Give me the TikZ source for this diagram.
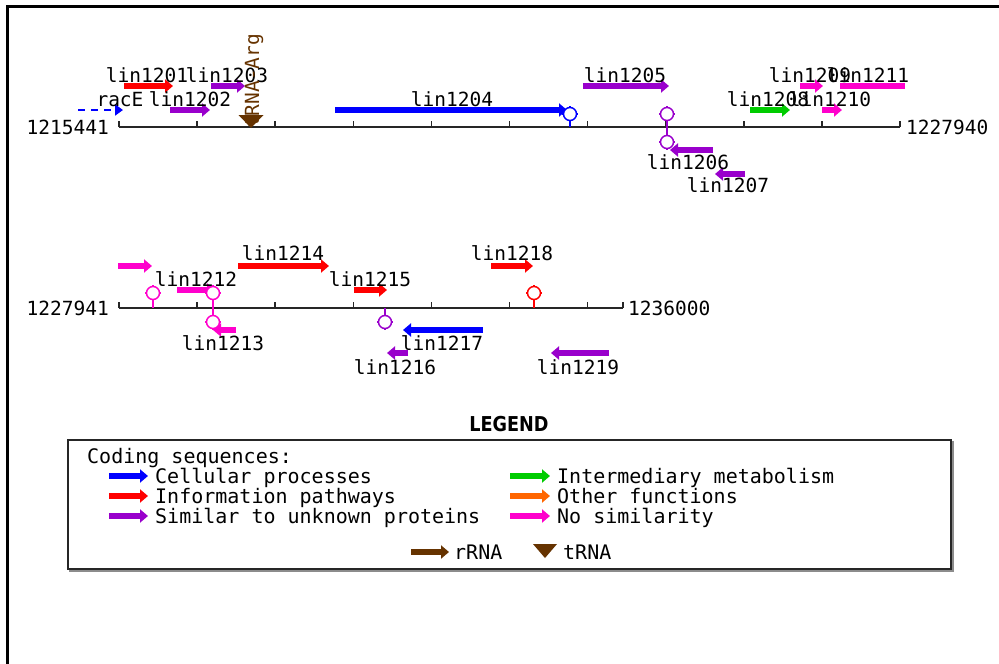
\documentclass[tikz,border=0pt]{standalone}
\usepackage{fontspec}
\newfontfamily\mapfont{DejaVu Sans Mono}
\newfontfamily\headfont{DejaVu Sans}
\usetikzlibrary{arrows.meta}

\definecolor{cellblue}{HTML}{0000FF}
\definecolor{infored}{HTML}{FF0000}
\definecolor{unkpurple}{HTML}{9900CC}
\definecolor{metgreen}{HTML}{00CC00}
\definecolor{otherorange}{HTML}{FF6600}
\definecolor{nosimpink}{HTML}{FF00CC}
\definecolor{rnabrown}{HTML}{663300}

% terminator: colour, x, y
\newcommand{\termsite}[3]{%
  \draw[#1,line width=1.5pt,fill=white] (#2,#3) circle (6.5pt);
  \foreach \a in {0,90,180,270}
    \draw[#1,line width=1.5pt] (#2,#3) ++(\a:6.5) -- ++(\a:1.8);
}

\begin{document}
\begin{tikzpicture}[x=1pt,y=-1pt,
    gene/.style={line width=6pt,-{Triangle[length=8pt,width=13pt]}},
    mapaxis/.style={line width=1.5pt,black!85},
    stem/.style={line width=1.5pt},
    lbl/.style={font=\mapfont\fontsize{19.5}{20}\selectfont,inner sep=0pt,anchor=base},
    lgd/.style={font=\mapfont\fontsize{20}{21}\selectfont,inner sep=0pt,anchor=base west}]

  \useasboundingbox (0,0) rectangle (999,664);
  \draw[line width=3pt] (7,664) -- (7,6) -- (999,6);

  % first segment
  \draw[mapaxis] (119,127) -- (900,127);
  \foreach \t in {0,...,10}
    \draw[mapaxis] ({119+78.1*\t},127) -- ++(0,-6);
  \node[lbl,anchor=base east] (start1) at (109,134) {1215441};
  \node[lbl,anchor=base west] (end1) at (906,134) {1227940};

  \draw[cellblue,line width=2pt,dash pattern=on 7pt off 6pt,
    -{Triangle[length=8pt,width=11pt]}] (78,110) -- (123,110);
  \foreach \xa/\xb/\y/\c in {124/173/86/infored, 170/210/110/unkpurple,
      211/245/86/unkpurple, 335/567/110/cellblue, 583/669/86/unkpurple,
      713/670/150/unkpurple, 745/715/174/unkpurple, 750/790/110/metgreen,
      800/823/86/nosimpink, 822/842/110/nosimpink}
    \draw[gene,\c] (\xa,\y) -- (\xb,\y);
  \draw[nosimpink,line width=6pt] (840,86) -- (905,86);

  \draw[stem,cellblue] (570,121) -- (570,127);
  \draw[stem,unkpurple] (667,121) -- (667,135);
  \termsite{cellblue}{570}{114}
  \termsite{unkpurple}{667}{114}
  \termsite{unkpurple}{667}{142}

  \node[lbl] (racE) at (120,106) {racE};
  \node[lbl] (lin1201) at (147,82) {lin1201};
  \node[lbl] (lin1202) at (190,106) {lin1202};
  \node[lbl] (lin1203) at (227,82) {lin1203};
  \node[lbl] (lin1204) at (452,106) {lin1204};
  \node[lbl] (lin1205) at (625,82) {lin1205};
  \node[lbl] (lin1206) at (688,169) {lin1206};
  \node[lbl] (lin1207) at (728,192) {lin1207};
  \node[lbl] (lin1208) at (768,106) {lin1208};
  \node[lbl] (lin1209) at (810,82) {lin1209};
  \node[lbl] (lin1210) at (830,106) {lin1210};
  \node[lbl] (lin1211) at (868,82) {lin1211};

  \node[lbl,rnabrown,rotate=90,anchor=base west] (trnaArg) at (259,128) {tRNA-Arg};
  \fill[rnabrown] (238.5,115) -- (263.5,115) -- (251,128) -- cycle;

  % second segment
  \draw[mapaxis] (119,308) -- (623,308);
  \foreach \t in {0,...,6}
    \draw[mapaxis] ({119+78.1*\t},308) -- ++(0,-6);
  \draw[mapaxis] (623,308) -- ++(0,-6);
  \node[lbl,anchor=base east] (start2) at (109,315) {1227941};
  \node[lbl,anchor=base west] (end2) at (628,315) {1236000};

  \foreach \xa/\xb/\y/\c in {118/152/266/nosimpink, 177/215/290/nosimpink,
      236/213/330/nosimpink, 238/329/266/infored, 354/387/290/infored,
      408/387/353/unkpurple, 483/403/330/cellblue, 491/533/266/infored,
      609/551/353/unkpurple}
    \draw[gene,\c] (\xa,\y) -- (\xb,\y);

  \draw[stem,nosimpink] (153,300) -- (153,308);
  \draw[stem,nosimpink] (213,300) -- (213,315);
  \draw[stem,unkpurple] (385,308) -- (385,315);
  \draw[stem,infored] (534,300) -- (534,308);
  \termsite{nosimpink}{153}{293}
  \termsite{nosimpink}{213}{293}
  \termsite{nosimpink}{213}{322}
  \termsite{unkpurple}{385}{322}
  \termsite{infored}{534}{293}

  \node[lbl] (lin1212) at (196,286) {lin1212};
  \node[lbl] (lin1213) at (223,350) {lin1213};
  \node[lbl] (lin1214) at (283,260) {lin1214};
  \node[lbl] (lin1215) at (370,286) {lin1215};
  \node[lbl] (lin1216) at (395,374) {lin1216};
  \node[lbl] (lin1217) at (442,350) {lin1217};
  \node[lbl] (lin1218) at (512,260) {lin1218};
  \node[lbl] (lin1219) at (578,374) {lin1219};

  % legend
  \node[font=\headfont\bfseries\fontsize{20.5}{21}\selectfont,inner sep=0pt]
    (legend) at (509,424) {\scalebox{0.86}[1]{LEGEND}};
  \draw[black!45,line width=2pt] (70,442) rectangle (953,571);
  \draw[black!85,line width=1.5pt,fill=white] (68,440) rectangle (951,569);
  \node[lgd] (coding) at (87,463) {Coding sequences:};
  \foreach \y/\c/\txt in {476/cellblue/Cellular processes,
      496/infored/Information pathways,
      516/unkpurple/Similar to unknown proteins}
  {
    \draw[gene,\c] (109,\y) -- (148,\y);
    \node[lgd] (key-\c) at (155,\y+7) {\txt};
  }
  \foreach \y/\c/\txt in {476/metgreen/Intermediary metabolism,
      496/otherorange/Other functions,
      516/nosimpink/No similarity}
  {
    \draw[gene,\c] (510,\y) -- (550,\y);
    \node[lgd] (key-\c) at (557,\y+7) {\txt};
  }
  \draw[gene,rnabrown] (411,552) -- (449,552);
  \node[lgd] (key-rrna) at (454,559) {rRNA};
  \fill[rnabrown] (533,544) -- (557,544) -- (545,558) -- cycle;
  \node[lgd] (key-trna) at (563,559) {tRNA};
\end{tikzpicture}
\end{document}
